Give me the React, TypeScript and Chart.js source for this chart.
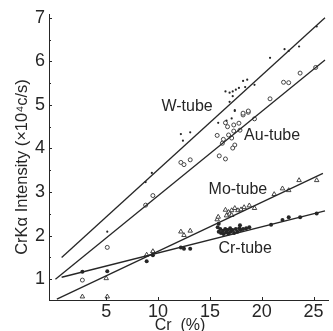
import React, { useEffect, useRef } from "react";
import { Chart, registerables } from "chart.js";

Chart.register(...registerables);

// ---- data ----
const xTicks = [5, 10, 15, 20, 25];
const yTicks = [1, 2, 3, 4, 5, 6, 7];
const yMinorTicks = [1.5, 2.5, 3.5, 4.5, 5.5, 6.5];

const wTubePoints = [
  { x: 5.1, y: 2.09 }, { x: 8.8, y: 3.23 }, { x: 9.4, y: 3.44 },
  { x: 12.2, y: 4.33 }, { x: 13.1, y: 4.37 }, { x: 12.4, y: 4.18 },
  { x: 15.8, y: 4.59 }, { x: 16.6, y: 4.64 }, { x: 17.1, y: 4.69 }, { x: 17.4, y: 4.86 },
  { x: 16.5, y: 5.31 }, { x: 16.9, y: 5.28 }, { x: 17.2, y: 5.31 }, { x: 17.5, y: 5.35 },
  { x: 17.8, y: 5.39 }, { x: 18.2, y: 5.55 }, { x: 18.6, y: 5.58 }, { x: 18.4, y: 5.41 },
  { x: 19.3, y: 5.46 }, { x: 17.2, y: 5.2 }, { x: 16.9, y: 5.07 }, { x: 17.4, y: 4.88 },
  { x: 20.8, y: 6.08 }, { x: 22.2, y: 6.28 }, { x: 22.6, y: 6.24 }, { x: 23.6, y: 6.34 },
  { x: 25.3, y: 6.8 },
];

const auTubePoints = [
  { x: 2.7, y: 0.98 }, { x: 5.1, y: 1.73 }, { x: 8.8, y: 2.7 }, { x: 9.5, y: 2.92 },
  { x: 12.2, y: 3.68 }, { x: 12.5, y: 3.63 }, { x: 13.1, y: 3.74 },
  { x: 16.5, y: 4.59 }, { x: 16.7, y: 4.5 }, { x: 17.3, y: 4.54 }, { x: 17.8, y: 4.58 },
  { x: 18.2, y: 4.77 }, { x: 18.7, y: 4.83 }, { x: 19.3, y: 4.68 }, { x: 17.9, y: 4.42 },
  { x: 17.3, y: 4.4 }, { x: 16.8, y: 4.31 }, { x: 16.3, y: 4.21 }, { x: 15.7, y: 4.3 },
  { x: 16.2, y: 4.12 }, { x: 17.1, y: 4.24 }, { x: 17.4, y: 4.08 }, { x: 17.2, y: 4.01 },
  { x: 15.9, y: 3.83 }, { x: 16.5, y: 3.76 },
  { x: 18.2, y: 4.81 }, { x: 18.7, y: 4.86 }, { x: 20.8, y: 5.14 }, { x: 22.1, y: 5.52 },
  { x: 22.6, y: 5.51 }, { x: 23.7, y: 5.73 }, { x: 25.2, y: 5.86 },
];

const moTubePoints = [
  { x: 2.7, y: 0.6 }, { x: 5.1, y: 0.6 }, { x: 5.0, y: 1.02 }, { x: 8.9, y: 1.56 }, { x: 9.5, y: 1.64 },
  { x: 12.2, y: 2.09 }, { x: 12.5, y: 2.01 }, { x: 13.1, y: 2.11 },
  { x: 15.7, y: 2.37 }, { x: 15.8, y: 2.43 }, { x: 16.5, y: 2.59 }, { x: 16.8, y: 2.54 },
  { x: 17.1, y: 2.58 }, { x: 17.4, y: 2.63 }, { x: 17.7, y: 2.58 }, { x: 18.0, y: 2.6 },
  { x: 18.3, y: 2.65 }, { x: 18.8, y: 2.69 }, { x: 19.3, y: 2.63 }, { x: 16.9, y: 2.5 },
  { x: 16.6, y: 2.46 }, { x: 17.1, y: 2.47 },
  { x: 21.2, y: 2.95 }, { x: 22.0, y: 3.08 }, { x: 22.6, y: 3.04 }, { x: 23.6, y: 3.27 },
  { x: 25.3, y: 3.27 },
];

const crTubePoints = [
  { x: 2.7, y: 1.17 }, { x: 5.1, y: 1.18 }, { x: 8.9, y: 1.41 }, { x: 9.5, y: 1.55 }, { x: 9.5, y: 1.62 },
  { x: 12.2, y: 1.73 }, { x: 12.5, y: 1.7 }, { x: 13.1, y: 1.7 },
  { x: 15.75, y: 2.19 }, { x: 15.85, y: 2.09 }, { x: 16.0, y: 2.15 }, { x: 16.07, y: 2.06 },
  { x: 16.26, y: 2.11 }, { x: 16.32, y: 2.04 }, { x: 16.48, y: 2.15 }, { x: 16.57, y: 2.07 },
  { x: 16.7, y: 2.13 }, { x: 16.8, y: 2.05 }, { x: 16.95, y: 2.17 }, { x: 17.0, y: 2.09 },
  { x: 17.2, y: 2.13 }, { x: 17.33, y: 2.06 }, { x: 17.5, y: 2.15 }, { x: 17.65, y: 2.09 },
  { x: 17.84, y: 2.17 }, { x: 17.96, y: 2.13 }, { x: 18.2, y: 2.15 }, { x: 18.5, y: 2.17 },
  { x: 18.8, y: 2.19 }, { x: 15.85, y: 2.27 }, { x: 17.9, y: 2.24 },
  { x: 20.9, y: 2.25 }, { x: 22.0, y: 2.36 }, { x: 22.6, y: 2.42 }, { x: 23.7, y: 2.42 },
  { x: 25.3, y: 2.51 },
];

// fitted lines (endpoints)
const wTubeLine = [{ x: 0.7, y: 1.5 }, { x: 26.1, y: 7.0 }];
const auTubeLine = [{ x: 0.1, y: 1.0 }, { x: 26.1, y: 6.03 }];
const moTubeLine = [{ x: 0.24, y: 0.545 }, { x: 25.9, y: 3.43 }];
const crTubeLine = [{ x: 0.7, y: 1.045 }, { x: 26.1, y: 2.57 }];

// labels placed in data coordinates
const seriesLabels = [
  { text: "W-tube", x: 12.8, y: 4.95 },
  { text: "Au-tube", x: 21.0, y: 4.3 },
  { text: "Mo-tube", x: 17.7, y: 3.05 },
  { text: "Cr-tube", x: 18.4, y: 1.7 },
];

const xTitle = "Cr  (%)";
const yTitle = "CrKα Intensity (×10⁴c/s)";

const INK = "#262626";
const FONT = "'Liberation Sans', Arial, sans-serif";

export default function App() {
  const ref = useRef<HTMLCanvasElement | null>(null);

  useEffect(() => {
    if (!ref.current) return;

    const decor = {
      id: "decor",
      afterDraw(chart: any) {
        const ctx = chart.ctx;
        const xs = chart.scales.x;
        const ys = chart.scales.y;
        const area = chart.chartArea;
        ctx.save();
        ctx.strokeStyle = INK;
        ctx.lineWidth = 1;
        // inward ticks
        ctx.beginPath();
        for (const v of yTicks) {
          const py = Math.round(ys.getPixelForValue(v)) + 0.5;
          ctx.moveTo(area.left, py);
          ctx.lineTo(area.left + 3, py);
        }
        for (const v of yMinorTicks) {
          const py = Math.round(ys.getPixelForValue(v)) + 0.5;
          ctx.moveTo(area.left, py);
          ctx.lineTo(area.left + 2, py);
        }
        for (const v of xTicks) {
          const px = Math.round(xs.getPixelForValue(v)) + 0.5;
          ctx.moveTo(px, area.bottom);
          ctx.lineTo(px, area.bottom - 3);
        }
        ctx.stroke();

        ctx.fillStyle = INK;
        ctx.font = `16px ${FONT}`;
        ctx.textAlign = "center";
        ctx.textBaseline = "middle";
        for (const l of seriesLabels) {
          ctx.fillText(l.text, xs.getPixelForValue(l.x), ys.getPixelForValue(l.y));
        }
        // x title
        ctx.font = `16px ${FONT}`;
        ctx.fillText(xTitle, 180, 326);
        // y title
        ctx.translate(22, 167);
        ctx.rotate(-Math.PI / 2);
        ctx.font = `16.5px ${FONT}`;
        ctx.fillText(yTitle, 0, 0);
        ctx.restore();
      },
    };

    const lineDs = (data: any) => ({
      type: "line" as const,
      data,
      showLine: true,
      borderColor: INK,
      borderWidth: 1.3,
      pointRadius: 0,
      fill: false,
    });

    const chart = new Chart(ref.current, {
      type: "scatter",
      data: {
        datasets: [
          lineDs(wTubeLine),
          lineDs(auTubeLine),
          lineDs(moTubeLine),
          lineDs(crTubeLine),
          {
            data: wTubePoints,
            pointStyle: "circle",
            pointRadius: 1.1,
            backgroundColor: INK,
            borderColor: INK,
            borderWidth: 0,
          },
          {
            data: auTubePoints,
            pointStyle: "circle",
            pointRadius: 2.0,
            backgroundColor: "#ffffff",
            borderColor: "#333",
            borderWidth: 0.9,
          },
          {
            data: moTubePoints,
            pointStyle: "triangle",
            pointRadius: 2.6,
            backgroundColor: "#ffffff",
            borderColor: "#333",
            borderWidth: 0.9,
          },
          {
            data: crTubePoints,
            pointStyle: "circle",
            pointRadius: 2.0,
            backgroundColor: INK,
            borderColor: INK,
            borderWidth: 0,
          },
        ] as any,
      },
      options: {
        animation: false,
        responsive: true,
        maintainAspectRatio: false,
        layout: { padding: { top: 12, right: 0, left: 0, bottom: 0 } },
        plugins: { legend: { display: false }, tooltip: { enabled: false } },
        scales: {
          x: {
            type: "linear",
            min: -0.52,
            max: 26.4,
            grid: { display: false, drawTicks: false },
            border: { display: true, color: INK, width: 1 },
            afterBuildTicks: (s: any) => {
              s.ticks = xTicks.map((v) => ({ value: v }));
            },
            afterFit: (s: any) => {
              s.height = 31;
            },
            ticks: {
              padding: 1,
              color: INK,
              font: { family: FONT, size: 18 },
              maxRotation: 0,
              autoSkip: false,
            },
          },
          y: {
            type: "linear",
            min: 0.523,
            max: 7.068,
            grid: { display: false, drawTicks: false },
            border: { display: true, color: INK, width: 1 },
            afterBuildTicks: (s: any) => {
              s.ticks = yTicks.map((v) => ({ value: v }));
            },
            afterFit: (s: any) => {
              s.width = 49;
            },
            ticks: {
              padding: 4,
              color: INK,
              font: { family: FONT, size: 18 },
              autoSkip: false,
            },
          },
        },
      },
      plugins: [decor],
    });

    return () => chart.destroy();
  }, []);

  return (
    <div
      style={{
        position: "fixed",
        left: 0,
        top: 0,
        width: 333,
        height: 331,
        background: "#fff",
      }}
    >
      <canvas ref={ref} />
    </div>
  );
}
